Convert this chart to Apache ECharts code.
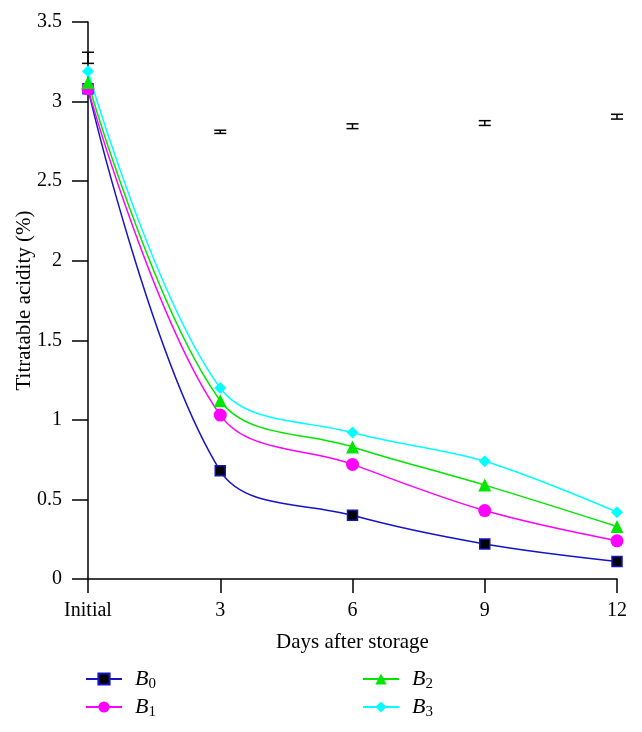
<!DOCTYPE html>
<html><head><meta charset="utf-8">
<script src="https://cdn.jsdelivr.net/npm/echarts@6/dist/echarts.min.js"></script>
<style>html,body{margin:0;padding:0;background:#fff}#c{width:642px;height:732px}</style>
</head><body><div id="c"></div>
<script>
var categories = ['Initial', '3', '6', '9', '12'];
var B0 = [3.08, 0.68, 0.40, 0.22, 0.11];
var B1 = [3.08, 1.03, 0.72, 0.43, 0.24];
var B2 = [3.12, 1.12, 0.83, 0.59, 0.33];
var B3 = [3.19, 1.20, 0.92, 0.74, 0.42];
var errLow = [3.24, 2.80, 2.83, 2.85, 2.89];
var errHigh = [3.31, 2.82, 2.86, 2.88, 2.92];
var yTicks = {min: 0, max: 3.5, interval: 0.5};

var FONT = 'Liberation Serif';
var chart = echarts.init(document.getElementById('c'));
function mk(name, data, color, symbol, size, fill, border) {
  return {
    name: name, type: 'line', data: data, smooth: 0.35,
    symbol: symbol, symbolSize: size,
    lineStyle: {color: color, width: 1.5},
    itemStyle: {color: fill, borderColor: border, borderWidth: border ? 1.5 : 0},
    z: 3
  };
}
var legendText = {
  fontFamily: FONT, color: '#000',
  rich: {
    i: {fontFamily: FONT, fontStyle: 'italic', fontSize: 22, color: '#000', padding: [0, 0, 0, 8]},
    s: {fontFamily: FONT, fontSize: 15, color: '#000', padding: [11, 0, 0, 0]}
  }
};
function fmt(name) { return '{i|B}{s|' + name.slice(1) + '}'; }
function leg(name, left, top) {
  return {data: [name], left: left, top: top, padding: 0, itemWidth: 36, itemHeight: 14,
          formatter: fmt, textStyle: legendText};
}
chart.setOption({
  animation: false,
  backgroundColor: '#fff',
  grid: {left: 88, right: 25, top: 22, bottom: 153, containLabel: false, outerBoundsMode: 'none'},
  legend: [leg('B0', 85, 668), leg('B1', 85, 696), leg('B2', 362, 668), leg('B3', 362, 696)],
  xAxis: {
    type: 'category', data: categories, boundaryGap: false,
    name: 'Days after storage', nameLocation: 'middle', nameGap: 53, nameMoveOverlap: false,
    nameTextStyle: {fontFamily: FONT, fontSize: 21, color: '#000'},
    axisLine: {lineStyle: {color: '#000', width: 1.5}},
    axisTick: {show: true, inside: false, length: 14, lineStyle: {color: '#000', width: 1.5}, alignWithLabel: true},
    axisLabel: {fontFamily: FONT, fontSize: 20, color: '#000', margin: 22},
    splitLine: {show: false}
  },
  yAxis: {
    type: 'value', min: yTicks.min, max: yTicks.max, interval: yTicks.interval,
    name: 'Titratable acidity (%)', nameLocation: 'middle', nameGap: 53, nameRotate: 90, nameMoveOverlap: false,
    nameTextStyle: {fontFamily: FONT, fontSize: 21, color: '#000'},
    axisLine: {show: true, lineStyle: {color: '#000', width: 1.5}},
    axisTick: {show: true, length: 16, lineStyle: {color: '#000', width: 1.5}},
    axisLabel: {fontFamily: FONT, fontSize: 20, color: '#000', margin: 26},
    splitLine: {show: false}
  },
  series: [
    mk('B0', B0, '#1515c8', 'rect', 10, '#000', '#1515c8'),
    mk('B1', B1, '#ff00ff', 'circle', 13, '#ff00ff', null),
    mk('B2', B2, '#00e600', 'triangle', 13, '#00e600', null),
    mk('B3', B3, '#00ffff', 'diamond', 12, '#00ffff', null),
    {
      type: 'custom', name: 'err', z: 5,
      data: categories.map(function (c, i) { return [i, errLow[i], errHigh[i]]; }),
      renderItem: function (params, api) {
        var x = api.value(0);
        var lo = api.coord([x, api.value(1)]);
        var hi = api.coord([x, api.value(2)]);
        var w = 6;
        var st = {stroke: '#000', lineWidth: 1.5};
        return {type: 'group', children: [
          {type: 'line', shape: {x1: lo[0], y1: lo[1], x2: hi[0], y2: hi[1]}, style: st},
          {type: 'line', shape: {x1: lo[0] - w, y1: lo[1], x2: lo[0] + w, y2: lo[1]}, style: st},
          {type: 'line', shape: {x1: hi[0] - w, y1: hi[1], x2: hi[0] + w, y2: hi[1]}, style: st}
        ]};
      }
    }
  ]
});
</script></body></html>
